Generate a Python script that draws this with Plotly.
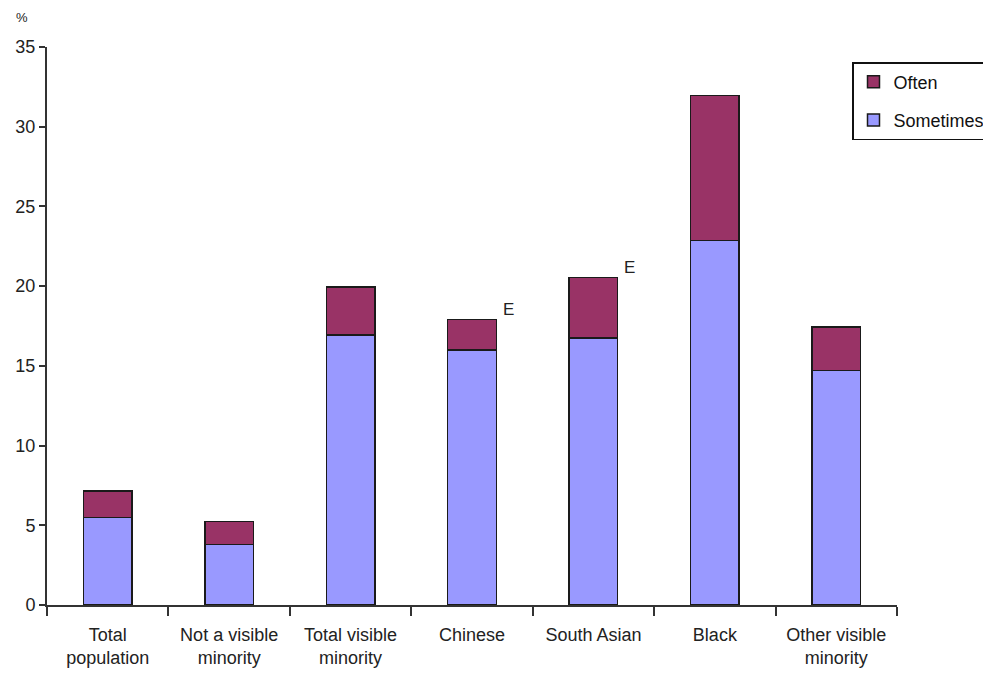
import plotly.graph_objects as go

categories = ["Total<br>population", "Not a visible<br>minority", "Total visible<br>minority",
              "Chinese", "South Asian", "Black", "Other visible<br>minority"]
sometimes = [5.5, 3.8, 16.95, 16.0, 16.75, 22.85, 14.7]
often = [1.65, 1.45, 3.0, 1.9, 3.8, 9.1, 2.75]
estimate_flags = ["", "", "", "E", "E", "", ""]
y_ticks = [0, 5, 10, 15, 20, 25, 30, 35]

FONT = "Liberation Sans, Arial, sans-serif"

fig = go.Figure()
fig.add_trace(go.Bar(x=categories, y=sometimes, name="Sometimes",
                     marker=dict(color="#9999FF", line=dict(color="#1a1a1a", width=1.5)),
                     legendgroup="s", legendrank=2))
fig.add_trace(go.Bar(x=categories, y=often, name="Often",
                     marker=dict(color="#993366", line=dict(color="#1a1a1a", width=1.5)),
                     legendgroup="o", legendrank=1))

for c, s, o, f in zip(categories, sometimes, often, estimate_flags):
    if f:
        fig.add_annotation(x=c, y=s + o, text=f, showarrow=False, xref="x", yref="y",
                           xanchor="center", yanchor="middle", xshift=36, yshift=10,
                           font=dict(family=FONT, size=17, color="#222"))

fig.add_annotation(x=(22 - 47) / 850, y=(677 - 72 - 17) / 558, xref="paper", yref="paper",
                   text="%", showarrow=False, xanchor="center", yanchor="middle",
                   font=dict(family=FONT, size=13, color="#222"))

fig.update_layout(
    width=983, height=677,
    margin=dict(l=47, r=86, t=47, b=72, autoexpand=False),
    paper_bgcolor="white", plot_bgcolor="white",
    barmode="stack", bargap=0.6,
    font=dict(family=FONT, size=18, color="#222"),
    showlegend=True,
    legend=dict(x=(852 - 47) / 850, y=(605 - 62) / 558, xanchor="left", yanchor="top",
                bgcolor="white", bordercolor="#111", borderwidth=1.5,
                traceorder="grouped", tracegroupgap=12, itemwidth=30,
                font=dict(family=FONT, size=18, color="#111")),
    xaxis=dict(range=[-0.5, 6.5], showline=True, linecolor="#333", linewidth=2,
               ticks="outside", tickson="boundaries", ticklen=9, tickcolor="#333", tickwidth=2,
               ticklabelstandoff=12,
               showgrid=False, tickfont=dict(family=FONT, size=18, color="#222")),
    yaxis=dict(range=[0, 35], tickvals=y_ticks, showline=True, linecolor="#333", linewidth=2,
               ticks="outside", ticklen=6, tickcolor="#333", tickwidth=2, showgrid=False,
               zeroline=False, tickfont=dict(family=FONT, size=18, color="#222")),
)

fig.write_html("out.html")
